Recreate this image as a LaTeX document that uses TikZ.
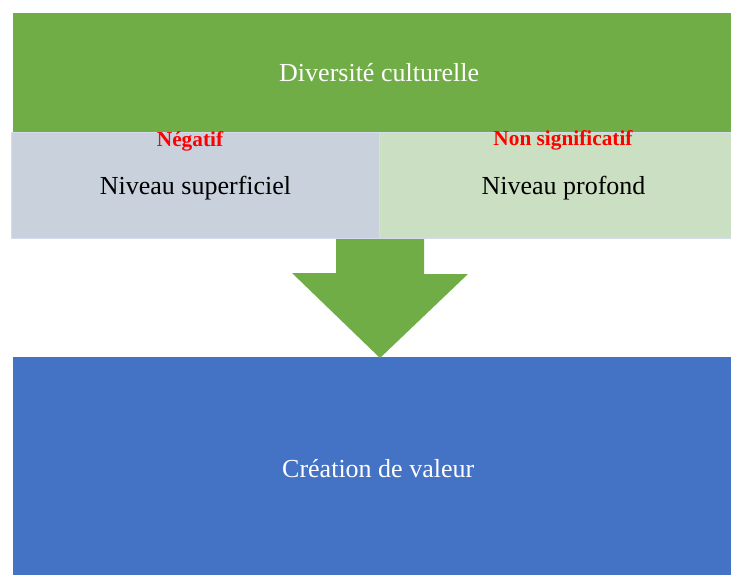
\documentclass[tikz,border=0pt]{standalone}
\usepackage{fontspec}
\setmainfont{Liberation Serif}
\usetikzlibrary{positioning}
\definecolor{vert}{HTML}{70AD47}
\definecolor{vertclair}{HTML}{CBDFC2}
\definecolor{grisbleu}{HTML}{C8D1DC}
\definecolor{bleu}{HTML}{4472C4}
\definecolor{bordure}{HTML}{D6DBEE}
\tikzstyle{bloc} = [rectangle, inner sep=0pt, anchor=north west,
font=\fontsize{26}{30}\selectfont]
\tikzstyle{niveau} = [bloc, draw=bordure, line width=1pt, minimum width=368pt,
minimum height=106pt, text height=24pt, text depth=6pt]
\tikzstyle{signe} = [text=red, inner sep=0pt, font=\bfseries\fontsize{21.3}{24}\selectfont]

\begin{document}
\begin{tikzpicture}[x=1pt,y=1pt]
		\useasboundingbox (0,0) rectangle (731,-575);
		% bandeau du haut
		\node [bloc, fill=vert, text=white, minimum width=732pt, minimum height=119pt] (divers) at (13,-13) {Diversité culturelle};
		% les deux niveaux
		\node [niveau, fill=grisbleu] (superf) at (11,-132) {Niveau superficiel};
		\node [niveau, fill=vertclair] (profond) at (379,-132) {Niveau profond};
		\node [signe] (neg) at (190,-141) {Négatif};
		\node [signe] (nonsig) at (563,-140) {Non significatif};
		% resultat
		\node [bloc, fill=bleu, text=white, minimum width=730pt, minimum height=223pt] (creation) at (13,-357) {Création de valeur};
		% fleche
		\coordinate (pointe) at (superf.south east |- creation.north);
		\fill [vert] ([xshift=-44pt]superf.south east) -- ++(88,0) -- ++(0,-35) -- ++(44,0)
			-- ([yshift=-1pt]pointe) -- ++(-88,85) -- ++(44,0) -- cycle;
\end{tikzpicture}
\end{document}
